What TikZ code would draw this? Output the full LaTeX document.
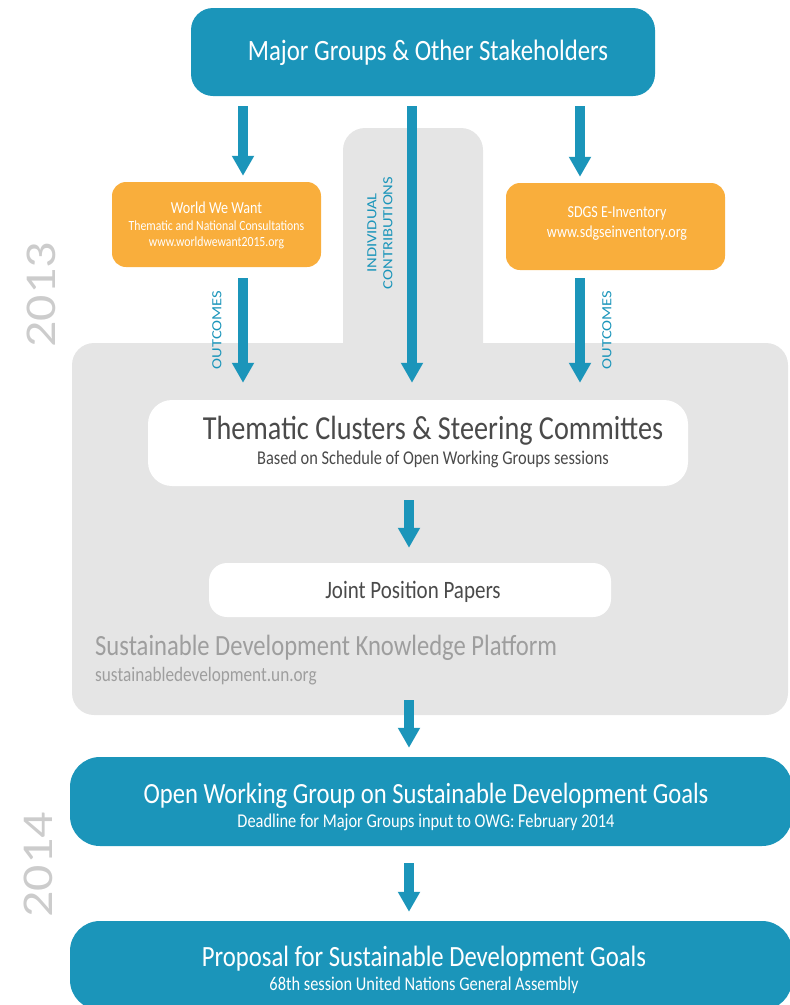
\documentclass[tikz,border=0pt]{standalone}
\usepackage{fontspec}
\setmainfont{Carlito}
\newfontfamily\hf[FakeStretch=0.84]{Carlito}
\newfontfamily\vf[FakeStretch=1.18]{Carlito}
\usetikzlibrary{arrows.meta}
\definecolor{cblue}{HTML}{1B95BA}
\definecolor{corange}{HTML}{F9AE3C}
\definecolor{cgrey}{HTML}{E5E5E5}
\definecolor{cyear}{HTML}{CCCCCC}
\definecolor{cdark}{HTML}{4A4A4A}
\definecolor{cplat}{HTML}{9E9E9E}
\tikzset{
  bluebox/.style={fill=cblue, draw=none, rounded corners=28pt, inner sep=0pt},
  orangebox/.style={fill=corange, draw=none, rounded corners=14pt, inner sep=0pt},
  whitebox/.style={fill=white, draw=none, rounded corners=24pt, inner sep=0pt},
  txt/.style={inner sep=0pt, align=center},
  arr/.style={draw=cblue, line width=10pt, -{Triangle[length=20pt,width=21pt]}},
  vlab/.style={inner sep=0pt, rotate=90, align=center, text=cblue},
  year/.style={inner sep=0pt, rotate=90, text=cyear}
}
\begin{document}
\begin{tikzpicture}[x=1pt,y=-1pt]
\useasboundingbox (0,0) rectangle (790,1005);
% grey platform
\fill[cgrey, rounded corners=22pt] (72,343) rectangle (788,715);
\fill[cgrey, rounded corners=22pt] (343,128) rectangle (483,380);
% column coordinates
\coordinate (cL) at (243,0);
\coordinate (cM) at (412,0);
\coordinate (cR) at (580,0);
\coordinate (cC) at (409,0);
\coordinate (platbot) at (409,700);
% boxes
\node[bluebox, minimum width=464pt, minimum height=88pt, rounded corners=22pt] (top) at (423,52) {};
\node[txt, text=white] at (428,53) {\hf\fontsize{29.5}{31}\selectfont Major Groups \& Other Stakeholders};
\node[orangebox, minimum width=209pt, minimum height=85pt] (wwl) at (216.5,224.5) {};
\node[txt, text=white] at (216.5,208) {\hf\fontsize{16.8}{18}\selectfont World We Want};
\node[txt, text=white] at (216.5,226) {\hf\fontsize{14}{15}\selectfont Thematic and National Consultations};
\node[txt, text=white] at (216.5,243) {\hf\fontsize{14}{15}\selectfont www.worldwewant2015.org};
\node[orangebox, minimum width=219pt, minimum height=87pt] (sdg) at (615.5,226.5) {};
\node[txt, text=white] at (617,213) {\hf\fontsize{16.7}{18}\selectfont SDGS E-Inventory};
\node[txt, text=white] at (617,233) {\hf\fontsize{16.7}{18}\selectfont www.sdgseinventory.org};
\node[whitebox, minimum width=540pt, minimum height=86pt] (them) at (418,443) {};
\node[txt, text=cdark] at (433,431) {\hf\fontsize{33.6}{35}\selectfont Thematic Clusters \& Steering Committes};
\node[txt, text=cdark] at (433,459) {\hf\fontsize{19.5}{21}\selectfont Based on Schedule of Open Working Groups sessions};
\node[whitebox, minimum width=402pt, minimum height=54pt, rounded corners=18pt] (joint) at (410,590) {};
\node[txt, text=cdark] at (413,592) {\hf\fontsize{25}{27}\selectfont Joint Position Papers};
\node[txt, text=cplat, anchor=west] at (95,648) {\hf\fontsize{29.3}{31}\selectfont Sustainable Development Knowledge Platform};
\node[txt, text=cplat, anchor=west] at (95,676) {\hf\fontsize{20.5}{22}\selectfont sustainabledevelopment.un.org};
\node[bluebox, minimum width=722pt, minimum height=89pt, rounded corners=30pt] (owg) at (431,801.5) {};
\node[txt, text=white] at (426,796) {\hf\fontsize{29.3}{31}\selectfont Open Working Group on Sustainable Development Goals};
\node[txt, text=white] at (426,822) {\hf\fontsize{19.5}{21}\selectfont Deadline for Major Groups input to OWG: February 2014};
\node[bluebox, minimum width=722pt, minimum height=89pt, rounded corners=30pt] (prop) at (431,965.5) {};
\node[txt, text=white] at (424,959) {\hf\fontsize{29.4}{31}\selectfont Proposal for Sustainable Development Goals};
\node[txt, text=white] at (424,985) {\hf\fontsize{19.5}{21}\selectfont 68th session United Nations General Assembly};
% vertical labels
\node[vlab, font=\vf\fontsize{14}{15}\selectfont] (outl) at (217,330) {OUTCOMES};
\node[vlab, font=\vf\fontsize{14}{15}\selectfont] (outr) at (607,330) {OUTCOMES};
\node[vlab, font=\vf\fontsize{14}{16}\selectfont] (indiv) at (380,233) {INDIVIDUAL\\CONTRIBUTIONS};
\node[year, font=\vf\fontsize{44}{46}\selectfont] (y13) at (41,295) {2013};
\node[year, font=\vf\fontsize{44}{46}\selectfont] (y14) at (38,865) {2014};
% arrows
\draw[arr, shorten <=10pt, shorten >=6pt] (top.south -| cL) -- (wwl.north -| cL);
\draw[arr, shorten <=10pt, shorten >=17pt] (top.south -| cM) -- (them.north -| cM);
\draw[arr, shorten <=10pt, shorten >=6pt] (top.south -| cR) -- (sdg.north -| cR);
\draw[arr, shorten <=11pt, shorten >=17pt] (wwl.south -| cL) -- (them.north -| cL);
\draw[arr, shorten <=8pt, shorten >=17pt] (sdg.south -| cR) -- (them.north -| cR);
\draw[arr, shorten <=14pt, shorten >=15pt] (them.south -| cC) -- (joint.north -| cC);
\draw[arr, shorten >=9pt] (platbot) -- (owg.north -| cC);
\draw[arr, shorten <=17pt, shorten >=9pt] (owg.south -| cC) -- (prop.north -| cC);
\end{tikzpicture}
\end{document}
